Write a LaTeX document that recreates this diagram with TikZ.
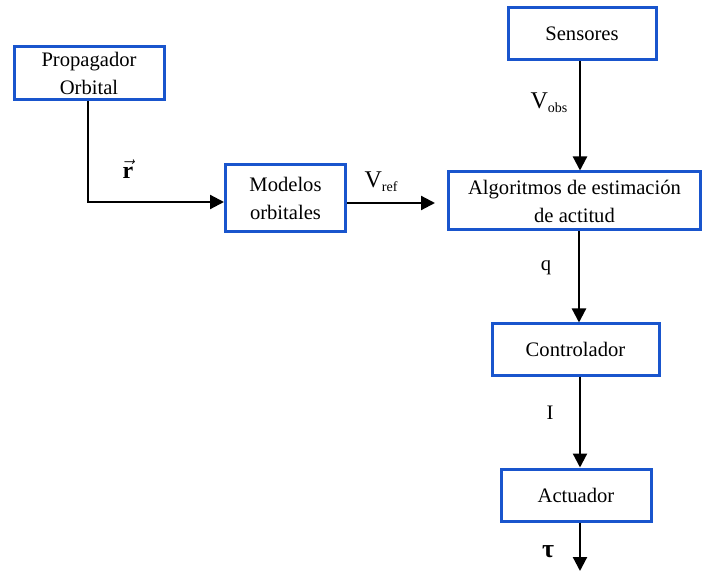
\documentclass[tikz,border=0pt]{standalone}
\usepackage{fontspec}
\setmainfont{Liberation Serif}
\usetikzlibrary{arrows.meta}
\definecolor{boxblue}{RGB}{25,85,205}
\tikzset{
  blockbox/.style={draw=boxblue, line width=3pt, fill=white, inner sep=0pt,
    align=center, font=\fontsize{20.6}{28}\selectfont},
  flow/.style={line width=2.2pt, -{Triangle[length=14pt,width=14pt]}},
  sig/.style={inner sep=0pt, font=\fontsize{20.6}{24}\selectfont},
}
\newcommand{\sigsub}[2]{\fontsize{24}{24}\selectfont #1\raisebox{-0.15em}{\fontsize{14}{14}\selectfont #2}}
\begin{document}
\begin{tikzpicture}[x=1pt,y=-1pt]
  \useasboundingbox (0,0) rectangle (702,572);

  % processing blocks
  \node[blockbox, minimum width=150pt, minimum height=53pt] (prop) at (89,73) {Propagador\\Orbital};
  \node[blockbox, minimum width=120pt, minimum height=67pt] (model) at (285.5,198.5) {Modelos\\orbitales};
  \node[blockbox, minimum width=148pt, minimum height=52pt] (sens) at (582,34) {Sensores};
  \node[blockbox, minimum width=252pt, minimum height=58pt] (algo) at (574.5,201) {Algoritmos de estimaci\'on\\de actitud};
  \node[blockbox, minimum width=167pt, minimum height=51pt] (ctrl) at (575.5,349.5) {Controlador};
  \node[blockbox, minimum width=150pt, minimum height=52pt] (act) at (576,495) {Actuador};
  \coordinate (out) at (580,571);

  % signal flow
  \draw[flow] ([xshift=-1pt]prop.south) |- ([yshift=-3.5pt]model.west);
  \draw[flow, shorten >=12pt] ([yshift=-4.5pt]model.east) -- ([yshift=-4.5pt]model.east -| algo.west);
  \draw[flow] ([xshift=-2pt]sens.south) -- ([xshift=-2pt]sens.south |- algo.north);
  \draw[flow] ([xshift=4.5pt]algo.south) -- ([xshift=4.5pt]algo.south |- ctrl.north);
  \draw[flow] ([xshift=4.5pt]ctrl.south) -- ([xshift=4.5pt]ctrl.south |- act.north);
  \draw[flow] ([xshift=4pt]act.south) -- (out);

  % signal labels
  \node[sig] (lr) at (128,169) {\fontsize{24}{24}\selectfont$\vec{\textbf{r}}$};
  \node[sig] (lvref) at (381,182) {\sigsub{V}{ref}};
  \node[sig] (lvobs) at (549,103) {\sigsub{V}{obs}};
  \node[sig] (lq) at (546,268) {q};
  \node[sig] (li) at (550,413) {I};
  \node[sig] (ltau) at (548,552) {\fontsize{26}{26}\selectfont\textbf{τ}};
\end{tikzpicture}
\end{document}
